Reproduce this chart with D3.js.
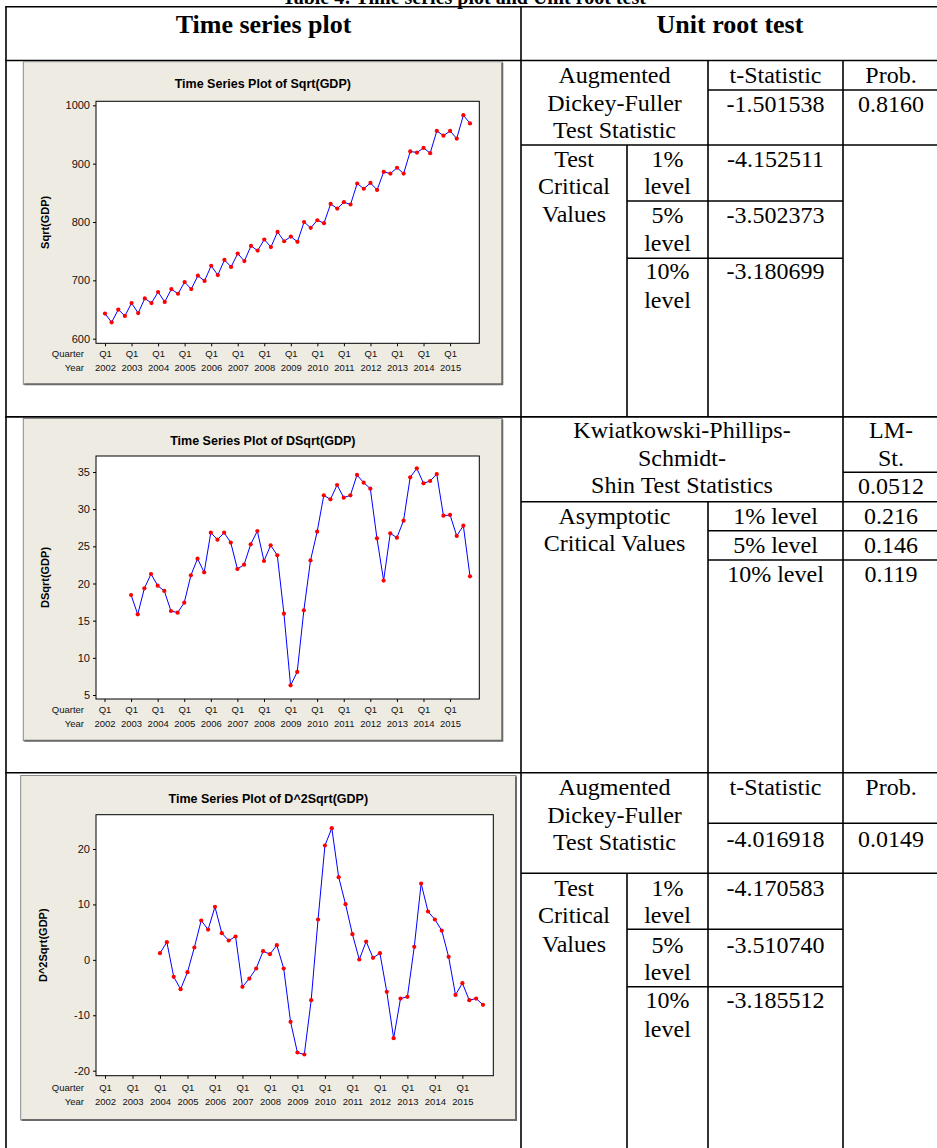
<!DOCTYPE html>
<html>
<head>
<meta charset="utf-8">
<script src="https://cdn.jsdelivr.net/npm/d3@7"></script>
<style>
  body { margin: 0; background: #fff; }
  svg { display: block; }
  .cell { font-family: "Liberation Serif", "Times New Roman", serif; font-size: 24px; fill: #000; }
  .head { font-family: "Liberation Serif", "Times New Roman", serif; font-weight: bold; fill: #000; }
  .axis text { font-family: "Liberation Sans", Arial, sans-serif; fill: #111; }
  .axis line { stroke: #000; }
  .ctitle, .ylab { font-family: "Liberation Sans", Arial, sans-serif; font-weight: bold; fill: #000; }
</style>
</head>
<body>
<div id="chart"></div>
<script>
// x axis tick labels
const years = ["2002", "2003", "2004", "2005", "2006", "2007", "2008",
               "2009", "2010", "2011", "2012", "2013", "2014", "2015"];
const quarterLabel = "Q1";

// Sqrt(GDP), 2002Q1 .. 2015Q4
const sqrtGdp = [643, 628, 650, 639, 661, 644, 669, 661, 680, 663, 685, 677,
                 697, 685, 708, 699, 725, 709, 735, 723, 746, 733, 759, 751,
                 770, 757, 783, 767, 775, 766, 800, 790, 803, 798, 831, 823,
                 834, 830, 866, 857, 867, 855, 886, 883, 893, 883, 921, 919,
                 927, 918, 956, 948, 956, 943, 983, 969];
// DSqrt(GDP), 2003Q1 .. 2015Q4
const dSqrtGdp = [18.45, 15.85, 19.35, 21.28, 19.71, 19.0, 16.3, 16.08,
                  17.42, 21.1, 23.34, 21.5, 26.84, 25.9, 26.84, 25.5,
                  21.95, 22.53, 25.27, 27.06, 23.03, 25.13, 23.8, 15.94,
                  6.3, 8.1, 16.4, 23.1, 26.97, 31.86, 31.32, 33.25,
                  31.55, 31.86, 34.6, 33.57, 32.76, 26.08, 20.4, 26.75,
                  26.17, 28.45, 34.28, 35.49, 33.48, 33.79, 34.73, 29.13,
                  29.22, 26.4, 27.78, 20.96];
// D^2Sqrt(GDP), 2004Q1 .. 2015Q4
const d2SqrtGdp = [1.2, 3.19, -3.07, -5.29, -2.23, 2.23, 7.1, 5.47,
                   9.56, 4.81, 3.49, 4.21, -4.87, -3.37, -1.56, 1.56,
                   1.02, 2.65, -1.56, -11.19, -16.72, -17.08, -7.28, 7.28,
                   20.63, 23.76, 14.92, 10.05, 4.63, 0.06, 3.31, 0.36,
                   1.2, -5.77, -14.14, -6.98, -6.68, 2.35, 13.77, 8.72,
                   7.28, 5.29, 0.54, -6.32, -4.21, -7.28, -6.98, -8.12];

const yTicksLevel = [600, 700, 800, 900, 1000];
const yTicksD = [5, 10, 15, 20, 25, 30, 35];
const yTicksD2 = [-20, -10, 0, 10, 20];

// unit root test numbers
const adfLevel = ["-1.501538", "0.8160"];
const adfLevelCrit = ["-4.152511", "-3.502373", "-3.180699"];
const kpssStat = ["0.0512"];
const kpssCrit = ["0.216", "0.146", "0.119"];
const adfD2 = ["-4.016918", "0.0149"];
const adfD2Crit = ["-4.170583", "-3.510740", "-3.185512"];
const levelNames = ["1%", "5%", "10%"];

const W = 937, H = 1148;
const svg = d3.select("#chart").append("svg").attr("width", W).attr("height", H);

// ---------- table ----------
const T = {left: 6, mid: 521, c2: 627, c3: 708, c4: 843, right: 939,
           top: 6.7, head: 60.5, r1: 416.9, r2: 772.7, bottom: 1170};
const tg = svg.append("g");

function hline(x1, x2, y) {
    tg.append("line").attr("x1", x1).attr("x2", x2).attr("y1", y).attr("y2", y)
        .attr("stroke", "#000").attr("stroke-width", 1.6);
}
function vline(x, y1, y2) {
    tg.append("line").attr("x1", x).attr("x2", x).attr("y1", y1).attr("y2", y2)
        .attr("stroke", "#000").attr("stroke-width", 1.6);
}
function txt(x, y, s) {
    tg.append("text").attr("class", "cell").attr("x", x).attr("y", y)
        .attr("text-anchor", "middle").text(s);
}

// caption, mostly cut by the top edge as in the source page
svg.append("text").attr("class", "head").attr("x", 464).attr("y", 3.5)
    .attr("text-anchor", "middle").attr("font-size", 20)
    .text("Table 4: Time series plot and Unit root test");

[T.top, T.head, T.r1, T.r2].forEach(y => hline(T.left - 0.8, T.right, y));
[T.left, T.mid, T.right].forEach(x => vline(x, T.top, T.bottom));

svg.append("text").attr("class", "head").attr("x", (T.left + T.mid) / 2).attr("y", 33.3)
    .attr("text-anchor", "middle").attr("font-size", 26).text("Time series plot");
svg.append("text").attr("class", "head").attr("x", 730).attr("y", 33.3)
    .attr("text-anchor", "middle").attr("font-size", 26).text("Unit root test");

const cA = (T.mid + T.c3) / 2, cL = (T.mid + T.c2) / 2, cLv = (T.c2 + T.c3) / 2,
      cS = (T.c3 + T.c4) / 2, cP = (T.c4 + T.right) / 2;

// row 1: ADF on levels
vline(T.c3, T.head, T.r1); vline(T.c4, T.head, T.r1);
hline(T.c3, T.right, 90);
hline(T.mid, T.right, 145);
vline(T.c2, 145, T.r1);
hline(T.c2, T.c4, 201); hline(T.c2, T.c4, 258.3);
txt(cA, 82.7, "Augmented"); txt(cA, 111, "Dickey-Fuller"); txt(cA, 137.7, "Test Statistic");
txt(cS, 82.7, "t-Statistic"); txt(cP, 82.7, "Prob.");
txt(cS, 111.7, adfLevel[0]); txt(cP, 111.7, adfLevel[1]);
txt(cL, 166.7, "Test"); txt(cL, 194.3, "Critical"); txt(cL, 221.7, "Values");
[[166.7, 194.3], [223.3, 251], [279.3, 307.7]].forEach(([a, b], i) => {
    txt(cLv, a, levelNames[i]); txt(cLv, b, "level");
    txt(cS, a, adfLevelCrit[i]);
});

// row 2: KPSS on first difference
vline(T.c4, T.r1, T.r2);
hline(T.c4, T.right, 472.3);
hline(T.mid, T.right, 501.7);
vline(T.c3, 501.7, T.r2);
hline(T.c3, T.right, 530.7); hline(T.c3, T.right, 560);
const cK = (T.mid + T.c4) / 2;
txt(cK, 438.3, "Kwiatkowski-Phillips-"); txt(cK, 466, "Schmidt-"); txt(cK, 493.3, "Shin Test Statistics");
txt(cP, 438.3, "LM-"); txt(cP, 466, "St."); txt(cP, 494, kpssStat[0]);
txt(cA, 524, "Asymptotic"); txt(cA, 550.7, "Critical Values");
[524, 553.3, 582.3].forEach((y, i) => {
    txt(cS, y, levelNames[i] + " level"); txt(cP, y, kpssCrit[i]);
});

// row 3: ADF on second difference
vline(T.c3, T.r2, T.bottom); vline(T.c4, T.r2, T.bottom);
hline(T.c3, T.right, 823.3);
hline(T.mid, T.right, 873.3);
vline(T.c2, 873.3, T.bottom);
hline(T.c2, T.c4, 929.3); hline(T.c2, T.c4, 986.7);
txt(cA, 795, "Augmented"); txt(cA, 822.7, "Dickey-Fuller"); txt(cA, 850, "Test Statistic");
txt(cS, 795, "t-Statistic"); txt(cP, 795, "Prob.");
txt(cS, 846.7, adfD2[0]); txt(cP, 846.7, adfD2[1]);
txt(cL, 896, "Test"); txt(cL, 923.3, "Critical"); txt(cL, 951.7, "Values");
[[896, 923.3], [952.7, 980], [1008.3, 1036.7]].forEach(([a, b], i) => {
    txt(cLv, a, levelNames[i]); txt(cLv, b, "level");
    txt(cS, a, adfD2Crit[i]);
});

// ---------- minitab style time series plots ----------
const charts = [
    {title: "Time Series Plot of Sqrt(GDP)", ylabel: "Sqrt(GDP)", values: sqrtGdp, start: 0,
     yTicks: yTicksLevel, yDomain: [600, 1000], yRange: [338.7, 105.3], xRange: [105, 470],
     panel: [23.3, 61.7, 502.3, 384.3], frame: [96, 101.3, 479.3, 343.3],
     titleY: 88.3, ylabX: 45, gap: 13.4},
    {title: "Time Series Plot of DSqrt(GDP)", ylabel: "DSqrt(GDP)", values: dSqrtGdp, start: 4,
     yTicks: yTicksD, yDomain: [5, 35], yRange: [695, 472], xRange: [104.5, 470],
     panel: [23.3, 418.5, 502.3, 740.7], frame: [96, 456, 479.3, 699],
     titleY: 445, ylabX: 45, gap: 13.7},
    {title: "Time Series Plot of D^2Sqrt(GDP)", ylabel: "D^2Sqrt(GDP)", values: d2SqrtGdp, start: 8,
     yTicks: yTicksD2, yDomain: [-20, 20], yRange: [1070.7, 849], xRange: [105, 483],
     panel: [20.7, 775.5, 516, 1120], frame: [96, 814.7, 493.3, 1075.7],
     titleY: 802.7, ylabX: 43.3, gap: 15}
];

charts.forEach(c => {
    const g = svg.append("g");
    const [px0, py0, px1, py1] = c.panel;
    const [fx0, fy0, fx1, fy1] = c.frame;

    g.append("rect").attr("x", px0).attr("y", py0).attr("width", px1 - px0).attr("height", py1 - py0)
        .attr("fill", "#eeebe2").attr("stroke", "#8a8a8a").attr("stroke-width", 1);
    g.append("path").attr("d", `M${px1},${py0 + 1}V${py1}H${px0 + 1}`)
        .attr("fill", "none").attr("stroke", "#6a6a6a").attr("stroke-width", 2);

    g.append("rect").attr("x", fx0).attr("y", fy0).attr("width", fx1 - fx0).attr("height", fy1 - fy0)
        .attr("fill", "#fff").attr("stroke", "#000").attr("stroke-width", 1);

    const x = d3.scaleLinear().domain([0, 55]).range(c.xRange);
    const y = d3.scaleLinear().domain(c.yDomain).range(c.yRange);

    g.append("text").attr("class", "ctitle").attr("x", (px0 + px1) / 2).attr("y", c.titleY)
        .attr("text-anchor", "middle").attr("font-size", 12.5).text(c.title);

    g.append("text").attr("class", "ylab")
        .attr("transform", `translate(${c.ylabX},${(fy0 + fy1) / 2}) rotate(-90)`)
        .attr("text-anchor", "middle").attr("dominant-baseline", "central")
        .attr("font-size", 11).text(c.ylabel);

    // plain hyphen minus and no thousands separator, like the minitab output
    const ya = g.append("g").attr("class", "axis").attr("transform", `translate(${fx0},0)`)
        .call(d3.axisLeft(y).tickValues(c.yTicks).tickSize(3).tickSizeOuter(0).tickPadding(3)
            .tickFormat(d => String(d)));
    ya.select(".domain").remove();
    ya.selectAll("text").attr("font-size", 11);

    const xa = g.append("g").attr("class", "axis").attr("transform", `translate(0,${fy1})`)
        .call(d3.axisBottom(x).tickValues(years.map((d, i) => i * 4)).tickSize(3)
            .tickSizeOuter(0).tickFormat(() => quarterLabel));
    xa.select(".domain").remove();
    xa.selectAll(".tick text").attr("y", c.gap).attr("dy", 0).attr("font-size", 9.5);
    xa.selectAll(".tick").append("text").attr("y", c.gap + 14).attr("fill", "currentColor")
        .attr("font-size", 9.5).text((d, i) => years[i]);
    xa.append("text").attr("x", 84).attr("y", c.gap).attr("text-anchor", "end")
        .attr("font-size", 9.5).text("Quarter");
    xa.append("text").attr("x", 84).attr("y", c.gap + 14).attr("text-anchor", "end")
        .attr("font-size", 9.5).text("Year");

    const pts = c.values.map((v, i) => ({i: i + c.start, v}));
    g.append("path").datum(pts)
        .attr("d", d3.line().x(d => x(d.i)).y(d => y(d.v)))
        .attr("fill", "none").attr("stroke", "#0000ff").attr("stroke-width", 1);
    g.selectAll(".pt").data(pts).enter().append("circle").attr("class", "pt")
        .attr("cx", d => x(d.i)).attr("cy", d => y(d.v)).attr("r", 2.1)
        .attr("fill", "#ff0000");
});
</script>
</body>
</html>
